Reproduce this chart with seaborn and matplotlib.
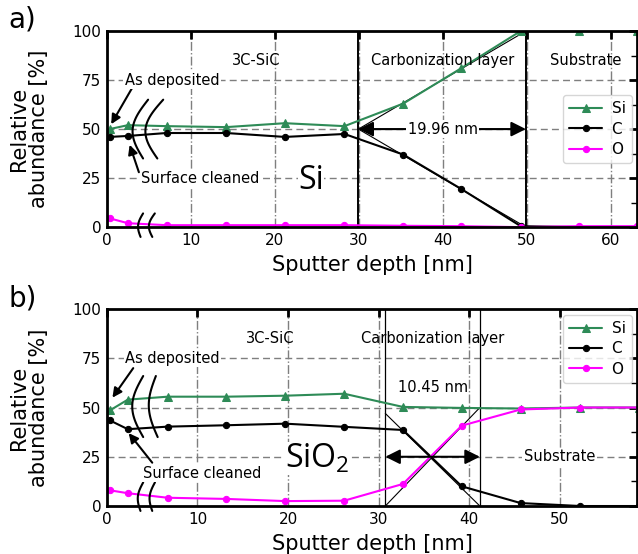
import numpy as np
import pandas as pd
import matplotlib
matplotlib.use("Agg")
import matplotlib.pyplot as plt
import seaborn as sns

sns.set_theme(style="white")
plt.rcParams['font.family'] = ['DejaVu Sans']
plt.rcParams['mathtext.fontset'] = 'custom'
plt.rcParams['mathtext.rm'] = 'Open Sans'
for k in ['text.color', 'axes.labelcolor', 'xtick.color', 'ytick.color',
          'axes.edgecolor']:
    plt.rcParams[k] = 'black'

# ---------------- data: panel a (Si substrate) ----------------
depth_a = [0.3, 2.5, 7.1, 14.2, 21.2, 28.3, 35.3, 42.2, 49.3, 56.2, 63.2]
si_a = [50, 52, 51.5, 51, 53, 51.5, 63, 81, 100, 100, 100]
c_a = [46, 46.5, 48, 48, 46, 47.5, 37, 19.5, 0.5, 0, 0]
o_a = [4.5, 2, 1, 1, 1, 1, 0.7, 0.5, 0, 0.5, 0.5]

# ---------------- data: panel b (SiO2 substrate) ----------------
depth_b = [0.3, 2.3, 6.7, 13.2, 19.7, 26.2, 32.7, 39.2, 45.7, 52.3, 58.8]
si_b = [48.5, 54, 55.5, 55.5, 56, 57, 50.3, 49.8, 49.5, 50, 50]
c_b = [43.5, 39, 40.3, 41, 41.8, 40.2, 38.6, 10, 1.5, 0, 0]
o_b = [8, 6.5, 4.2, 3.6, 2.5, 2.7, 11.2, 40.8, 49, 50, 50]

series_names = ["Si", "C", "O"]
series_colors = ["#2e8b57", "black", "#ff00ff"]
series_markers = ["^", "o", "o"]

# layer boundaries / widths
bounds_a = [29.96, 49.92]
width_a = "19.96 nm"
bounds_b = [30.75, 41.2]
width_b = "10.45 nm"

fig = plt.figure(figsize=(6.38, 5.54), dpi=100)
ax_a = fig.add_axes([0.1677, 0.590, 0.8313, 0.354])
ax_b = fig.add_axes([0.1677, 0.0866, 0.8313, 0.3556])

FS_IN = 10.5


def draw_series(ax, x, ys):
    for name, y, col, mk in zip(series_names, ys, series_colors, series_markers):
        ms = 6 if mk == "^" else 4.5
        sns.lineplot(x=x, y=y, ax=ax, color=col, marker=mk, markersize=ms,
                     markeredgecolor=col, linewidth=1.5, label=name, sort=False)


def style_axes(ax, xmax):
    ax.set_xlim(0, xmax)
    ax.set_ylim(0, 100)
    ax.set_yticks([0, 25, 50, 75, 100])
    ax.set_yticks([12.5, 37.5, 62.5, 87.5], minor=True)
    ax.set_xticks(np.arange(0, xmax + 0.01, 10))
    ax.tick_params(which='both', direction='in', top=True, right=True,
                   labelsize=11, colors='black', pad=4)
    ax.tick_params(which='major', length=6, width=2)
    ax.tick_params(which='minor', length=4, width=1)
    for sp in ax.spines.values():
        sp.set_linewidth(2)
        sp.set_color('black')
    for yv in [25, 50, 75]:
        ax.axhline(yv, color='#7f7f7f', ls=(0, (5, 3)), lw=1, zorder=0.5)
    for xv in np.arange(10, xmax, 10):
        ax.axvline(xv, color='#7f7f7f', ls='-.', lw=1, zorder=0.5)
    ax.set_xlabel("Sputter depth [nm]", fontsize=15, labelpad=5)
    ax.set_ylabel("Relative\nabundance [%]", fontsize=15, labelpad=17,
                  linespacing=1.0)


def breaks(ax, curves):
    t = np.linspace(0, 1, 60)
    for (xt, xl, xb, yt, yb) in curves:
        y = yt + (yb - yt) * t
        base = xt + (xb - xt) * t
        x = base - (xt - xl) * np.sin(np.pi * t) * 1.1
        ax.plot(x, y, color='black', lw=1.5, clip_on=False, zorder=6)


white = dict(fc='white', ec='none', pad=1)

# ---------------- panel a ----------------
style_axes(ax_a, 63.2)
for xv in bounds_a:
    ax_a.axvline(xv, color='black', lw=1.4, zorder=1)
ax_a.plot([bounds_a[0], bounds_a[1]], [50, 100], color='black', lw=0.8, zorder=1)
ax_a.plot([bounds_a[0], bounds_a[1]], [50, 0], color='black', lw=0.8, zorder=1)
draw_series(ax_a, depth_a, [si_a, c_a, o_a])
ax_a.annotate("", xy=(bounds_a[0], 50), xytext=(bounds_a[1], 50),
              arrowprops=dict(arrowstyle='<|-|>', color='black', lw=1.5,
                              mutation_scale=22, shrinkA=0, shrinkB=0), zorder=7)
ax_a.text(40, 50, width_a, ha='center', va='center', fontsize=FS_IN,
          bbox=white, zorder=8)
ax_a.text(17.8, 85, "3C-SiC", ha='center', va='center', fontsize=FS_IN)
ax_a.text(40, 85, "Carbonization layer", ha='center', va='center', fontsize=FS_IN)
ax_a.text(57, 85, "Substrate", ha='center', va='center', fontsize=FS_IN)
ax_a.text(2.1, 75, "As deposited", ha='left', va='center', fontsize=FS_IN,
          bbox=white, zorder=8)
ax_a.text(4.1, 25, "Surface cleaned", ha='left', va='center', fontsize=FS_IN,
          bbox=white, zorder=8)
ax_a.annotate("", xy=(0.5, 52.5), xytext=(3.0, 71),
              arrowprops=dict(arrowstyle='-|>', color='black', lw=1.5,
                              mutation_scale=14, shrinkA=0, shrinkB=0))
ax_a.annotate("", xy=(2.7, 42), xytext=(3.8, 28),
              arrowprops=dict(arrowstyle='-|>', color='black', lw=1.5,
                              mutation_scale=14, shrinkA=0, shrinkB=0))
ax_a.text(22.8, 24, "Si", ha='left', va='center', fontsize=23,
          family='Open Sans', bbox=dict(fc='white', ec='none', pad=0), zorder=3)
breaks(ax_a, [(4.9, 3.5, 4.3, 65, 35), (6.7, 5.1, 6.0, 65, 35),
              (4.3, 3.9, 4.0, 7, -5), (5.7, 5.2, 5.4, 7, -5)])
leg = ax_a.legend(loc='center right', bbox_to_anchor=(0.995, 0.5), fontsize=11,
                  frameon=True, handlelength=2.2, borderpad=0.4,
                  labelspacing=0.35, handletextpad=0.6, borderaxespad=0.2)
leg.get_frame().set_edgecolor('#cccccc')
leg.set_zorder(9)

# ---------------- panel b ----------------
style_axes(ax_b, 58.6)
for xv in bounds_b:
    ax_b.axvline(xv, color='black', lw=0.9, zorder=1)
ax_b.plot([bounds_b[0], bounds_b[1]], [0, 50], color='black', lw=0.8, zorder=1)
ax_b.plot([bounds_b[0], bounds_b[1]], [47, 0], color='black', lw=0.8, zorder=1)
draw_series(ax_b, depth_b, [si_b, c_b, o_b])
ax_b.annotate("", xy=(bounds_b[0], 25), xytext=(bounds_b[1], 25),
              arrowprops=dict(arrowstyle='<|-|>', color='black', lw=1.5,
                              mutation_scale=22, shrinkA=0, shrinkB=0), zorder=7)
ax_b.text(36, 60, width_b, ha='center', va='center', fontsize=FS_IN)
ax_b.text(18, 85, "3C-SiC", ha='center', va='center', fontsize=FS_IN)
ax_b.text(36, 85, "Carbonization layer", ha='center', va='center', fontsize=FS_IN)
ax_b.text(50, 25, "Substrate", ha='center', va='center', fontsize=FS_IN,
          bbox=white, zorder=8)
ax_b.text(2.0, 75, "As deposited", ha='left', va='center', fontsize=FS_IN,
          bbox=white, zorder=8)
ax_b.text(4.0, 16.7, "Surface cleaned", ha='left', va='center', fontsize=FS_IN,
          bbox=white, zorder=8)
ax_b.annotate("", xy=(0.6, 55), xytext=(2.9, 70),
              arrowprops=dict(arrowstyle='-|>', color='black', lw=1.5,
                              mutation_scale=14, shrinkA=0, shrinkB=0))
ax_b.annotate("", xy=(2.4, 37), xytext=(5.0, 22),
              arrowprops=dict(arrowstyle='-|>', color='black', lw=1.5,
                              mutation_scale=14, shrinkA=0, shrinkB=0))
ax_b.text(19.7, 24, r"$\mathrm{SiO_2}$", ha='left', va='center', fontsize=23,
          bbox=dict(fc='white', ec='none', pad=0), zorder=3)
breaks(ax_b, [(4.0, 2.9, 4.0, 66, 35), (5.4, 4.6, 5.6, 66, 35),
              (4.0, 3.6, 3.7, 12, -2.5), (5.3, 4.9, 5.0, 12, -2.5)])
leg = ax_b.legend(loc='upper right', bbox_to_anchor=(0.995, 0.985), fontsize=11,
                  frameon=True, handlelength=2.2, borderpad=0.4,
                  labelspacing=0.35, handletextpad=0.6, borderaxespad=0.2)
leg.get_frame().set_edgecolor('#cccccc')
leg.set_zorder(9)

fig.text(0.013, 0.965, "a)", fontsize=20, ha='left', va='center')
fig.text(0.013, 0.462, "b)", fontsize=20, ha='left', va='center')

fig.savefig("out.png", dpi=100)
